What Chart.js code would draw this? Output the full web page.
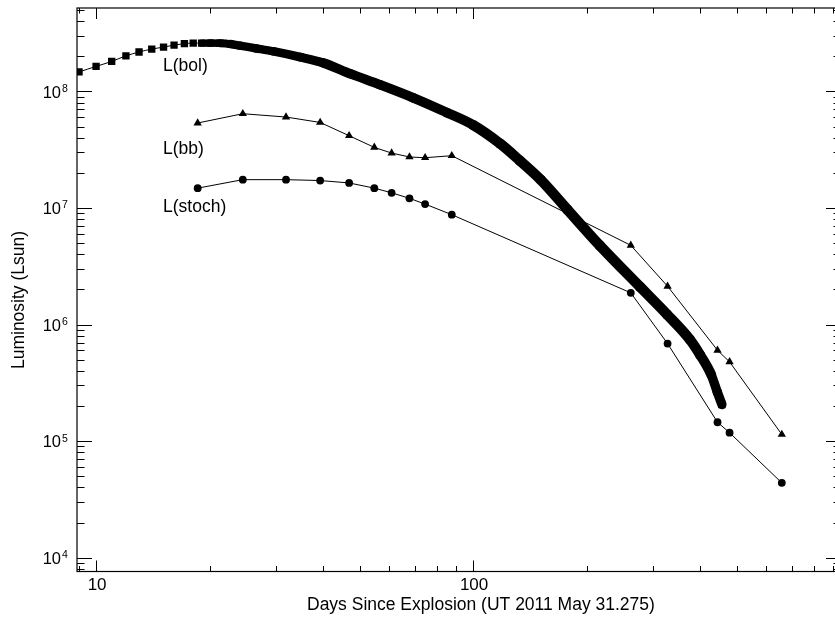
<!DOCTYPE html>
<html>
<head>
<meta charset="utf-8">
<title>Luminosity vs days since explosion</title>
<script src="https://cdn.jsdelivr.net/npm/chart.js"></script>
<style>
  html, body { margin: 0; padding: 0; background: #fff; overflow: hidden; }
</style>
</head>
<body>
<canvas id="lc" width="860" height="621"></canvas>
<script>
// L(bol): days since explosion and luminosity (Lsun)
const bolDays = [9.01, 10.0, 11.0, 12.0, 13.0, 14.05, 15.1, 16.1, 17.15, 18.1, 19.05,
  20.1, 21.3, 22.7, 24.1, 26.4, 29.5, 34.8, 40.0, 47.2, 56.7, 69.3, 85.3, 100, 118,
  133, 151, 178, 217, 277, 327, 376, 400, 428, 444, 457];
const bolLum = [1.47e8, 1.64e8, 1.81e8, 2.02e8, 2.18e8, 2.31e8, 2.40e8, 2.50e8, 2.57e8, 2.60e8, 2.60e8,
  2.60e8, 2.59e8, 2.55e8, 2.47e8, 2.35e8, 2.21e8, 1.97e8, 1.76e8, 1.42e8, 1.14e8, 8.83e7, 6.57e7, 5.15e7, 3.56e7,
  2.55e7, 1.75e7, 9.67e6, 4.75e6, 2.11e6, 1.22e6, 7.42e5, 5.5e5, 3.72e5, 2.66e5, 2.06e5];

// L(bb) and L(stoch) share the same epochs
const obsDays = [18.6, 24.5, 31.9, 39.3, 46.9, 54.7, 60.8, 67.8, 74.6, 87.8, 262, 328, 445, 479, 659];
const bbLum = [5.36e7, 6.44e7, 6.03e7, 5.42e7, 4.17e7, 3.31e7, 2.96e7, 2.74e7, 2.70e7, 2.81e7,
  4.78e6, 2.13e6, 6.01e5, 4.78e5, 1.14e5];
const stochLum = [1.48e7, 1.75e7, 1.75e7, 1.72e7, 1.64e7, 1.48e7, 1.35e7, 1.21e7, 1.08e7, 8.76e6,
  1.87e6, 6.86e5, 1.45e5, 1.18e5, 4.38e4];

// axes
const xRange = [8.9, 946];
const yRange = [7600, 5.2e8];
const xTickLabels = [10, 100];
const yExponents = [4, 5, 6, 7, 8];
const seriesLabels = ['L(bol)', 'L(bb)', 'L(stoch)'];

const FONT = '"Liberation Sans", Arial, Helvetica, sans-serif';
const toXY = (xs, ys) => xs.map((d, i) => ({ x: d, y: ys[i] }));

// frame, ticks on all four sides and all the text
const frameAndText = {
  id: 'frameAndText',
  afterDraw(chart) {
    const { ctx, chartArea: a, scales: { x, y } } = chart;
    const line = (x0, y0, x1, y1) => { ctx.beginPath(); ctx.moveTo(x0, y0); ctx.lineTo(x1, y1); ctx.stroke(); };
    ctx.save();
    ctx.strokeStyle = '#000';
    ctx.fillStyle = '#000';
    ctx.lineWidth = 1.2;
    ctx.strokeRect(a.left, a.top, a.right - a.left, a.bottom - a.top);

    ctx.lineWidth = 1;
    for (let e = 0; e <= 3; e++) {
      for (let m = 1; m <= 9; m++) {
        const v = m * Math.pow(10, e);
        if (v < x.min || v > x.max) continue;
        const px = Math.round(x.getPixelForValue(v)) + 0.5;
        const len = m === 1 ? 11 : 5.5;
        line(px, a.bottom, px, a.bottom - len);
        line(px, a.top, px, a.top + len);
      }
    }
    for (let e = 3; e <= 8; e++) {
      for (let m = 1; m <= 9; m++) {
        const v = m * Math.pow(10, e);
        if (v < y.min || v > y.max) continue;
        const py = Math.round(y.getPixelForValue(v)) + 0.5;
        const len = m === 1 ? 15 : 7.5;
        line(a.left, py, a.left + len, py);
        line(a.right, py, a.right - len, py);
      }
    }

    // tick labels
    ctx.font = '17px ' + FONT;
    ctx.textAlign = 'center';
    ctx.textBaseline = 'alphabetic';
    xTickLabels.forEach(v => ctx.fillText(String(v), x.getPixelForValue(v) + 1, a.bottom + 18.5));
    yExponents.forEach(e => {
      const py = y.getPixelForValue(Math.pow(10, e));
      ctx.font = '16.5px ' + FONT;
      ctx.textAlign = 'right';
      ctx.fillText('10', a.left - 16, py + 6.3);
      ctx.font = '10.5px ' + FONT;
      ctx.textAlign = 'left';
      ctx.fillText(String(e), a.left - 15, py + 0.5);
    });

    // axis titles
    ctx.font = '17.5px ' + FONT;
    ctx.textAlign = 'left';
    ctx.fillText('Days Since Explosion (UT 2011 May 31.275)', 307, 610);
    ctx.save();
    ctx.translate(24, 300);
    ctx.rotate(-Math.PI / 2);
    ctx.textAlign = 'center';
    ctx.fillText('Luminosity (Lsun)', 0, 0);
    ctx.restore();

    // series labels
    ctx.textAlign = 'left';
    ctx.fillText(seriesLabels[0], 163, 70.6);
    ctx.fillText(seriesLabels[1], 163, 154);
    ctx.fillText(seriesLabels[2], 163, 211.6);
    ctx.restore();
  }
};

// the dense part of L(bol) is a band of overlapping squares: width follows the swept square
const SQ = 7.35;
const bolWidth = c => {
  if (c.p0DataIndex < 10) return 1;
  const dx = c.p1.x - c.p0.x, dy = c.p1.y - c.p0.y;
  const len = Math.hypot(dx, dy) || 1;
  return SQ * (Math.abs(dx) + Math.abs(dy)) / len;
};

new Chart(document.getElementById('lc'), {
  type: 'line',
  data: {
    datasets: [
      {
        label: seriesLabels[0],
        data: toXY(bolDays, bolLum),
        borderColor: '#000',
        backgroundColor: '#000',
        borderWidth: 1,
        pointStyle: 'rect',
        pointRadius: SQ / Math.SQRT2,
        pointBorderWidth: 0,
        cubicInterpolationMode: 'monotone',
        segment: { borderWidth: bolWidth, borderCapStyle: 'round' },
        clip: 0
      },
      {
        label: seriesLabels[1],
        data: toXY(obsDays, bbLum),
        borderColor: '#000',
        backgroundColor: '#000',
        borderWidth: 1,
        pointStyle: 'triangle',
        pointRadius: 4.8,
        pointBorderWidth: 0,
        clip: 0
      },
      {
        label: seriesLabels[2],
        data: toXY(obsDays, stochLum),
        borderColor: '#000',
        backgroundColor: '#000',
        borderWidth: 1,
        pointStyle: 'circle',
        pointRadius: 3.9,
        pointBorderWidth: 0,
        clip: 0
      }
    ]
  },
  options: {
    responsive: false,
    animation: false,
    layout: { padding: { left: 77, top: 8, right: 19, bottom: 49.5 } },
    plugins: { legend: { display: false }, tooltip: { enabled: false } },
    scales: {
      x: { type: 'logarithmic', min: xRange[0], max: xRange[1], display: false },
      y: { type: 'logarithmic', min: yRange[0], max: yRange[1], display: false }
    }
  },
  plugins: [frameAndText]
});
</script>
</body>
</html>
